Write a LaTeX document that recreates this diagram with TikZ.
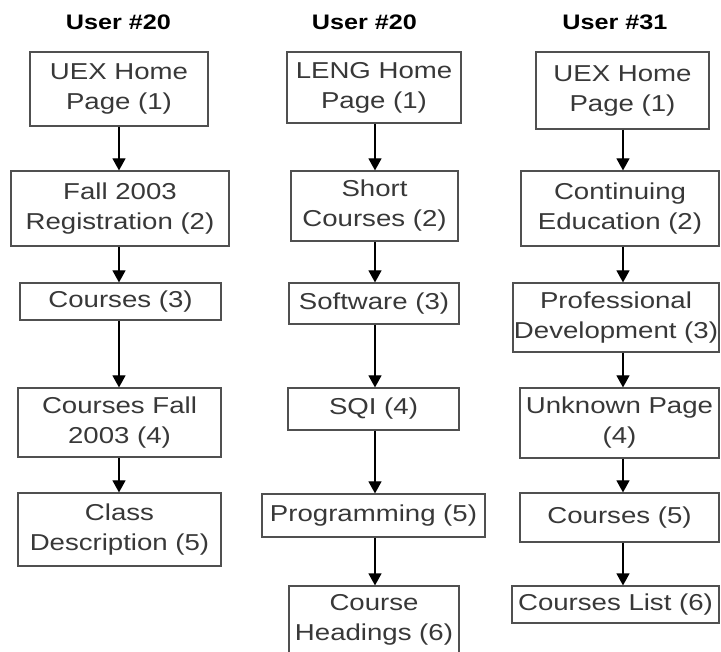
\documentclass[tikz,border=0pt]{standalone}
\usepackage{fontspec}
\setmainfont{Liberation Sans}[FakeStretch=1.2]
\usetikzlibrary{arrows.meta}
\definecolor{frame}{HTML}{505050}
\definecolor{ink}{HTML}{383838}
\tikzset{
  page/.style={draw=frame, line width=1.2pt, fill=white, inner sep=0pt,
    align=center, text=ink, font=\fontsize{23}{30}\selectfont},
  heading/.style={anchor=base, inner sep=0pt, font=\bfseries\fontsize{21}{25}\selectfont},
  link/.style={line width=1.2pt, -{Triangle[width=13pt,length=12pt]}}
}
\begin{document}
\begin{tikzpicture}[x=1pt,y=-1pt]
\useasboundingbox (0,0) rectangle (721,652);

% column titles
\node[heading] (t1) at (118.5,30) {User \#20};
\node[heading] (t2) at (364.5,30) {User \#20};
\node[heading] (t3) at (615,30) {User \#31};

% first session
\node[page, minimum width=178pt, minimum height=74pt] (a1) at (119,89) {UEX Home\\Page (1)};
\node[page, minimum width=218pt, minimum height=75pt] (a2) at (120,208.5) {Fall 2003\\Registration (2)};
\node[page, minimum width=201pt, minimum height=37pt] (a3) at (120.5,301.5) {Courses (3)};
\node[page, minimum width=203pt, minimum height=69pt] (a4) at (119.5,422.5) {Courses Fall\\2003 (4)};
\node[page, minimum width=203pt, minimum height=73pt] (a5) at (119.5,529.5) {Class\\Description (5)};

% second session
\node[page, minimum width=174pt, minimum height=71pt] (b1) at (374,87.5) {LENG Home\\Page (1)};
\node[page, minimum width=167pt, minimum height=70pt] (b2) at (374.5,206) {Short\\Courses (2)};
\node[page, minimum width=170pt, minimum height=41pt] (b3) at (374,303.5) {Software (3)};
\node[page, minimum width=171pt, minimum height=42pt] (b4) at (373.5,409) {SQI (4)};
\node[page, minimum width=223pt, minimum height=43pt] (b5) at (373.5,515.5) {Programming (5)};
\node[page, minimum width=170pt, minimum height=68pt] (b6) at (374,620) {Course\\Headings (6)};

% third session
\node[page, minimum width=173pt, minimum height=77pt] (c1) at (622.5,90.5) {UEX Home\\Page (1)};
\node[page, minimum width=198pt, minimum height=75pt] (c2) at (620,208.5) {Continuing\\Education (2)};
\node[page, minimum width=206pt, minimum height=69pt] (c3) at (616,317.5) {Professional\\Development (3)};
\node[page, minimum width=199pt, minimum height=70pt] (c4) at (619.5,423) {Unknown Page\\(4)};
\node[page, minimum width=199pt, minimum height=49pt] (c5) at (619.5,517.5) {Courses (5)};
\node[page, minimum width=207pt, minimum height=37pt] (c6) at (615.5,604.5) {Courses List (6)};

% navigation steps, each column on a common vertical line
\coordinate (ax) at (119,0);
\coordinate (bx) at (375,0);
\coordinate (cx) at (623,0);
\foreach \u/\v in {a1/a2,a2/a3,a3/a4,a4/a5}
  \draw[link] (ax |- \u.south) -- (ax |- \v.north);
\foreach \u/\v in {b1/b2,b2/b3,b3/b4,b4/b5,b5/b6}
  \draw[link] (bx |- \u.south) -- (bx |- \v.north);
\foreach \u/\v in {c1/c2,c2/c3,c3/c4,c4/c5,c5/c6}
  \draw[link] (cx |- \u.south) -- (cx |- \v.north);
\end{tikzpicture}
\end{document}
